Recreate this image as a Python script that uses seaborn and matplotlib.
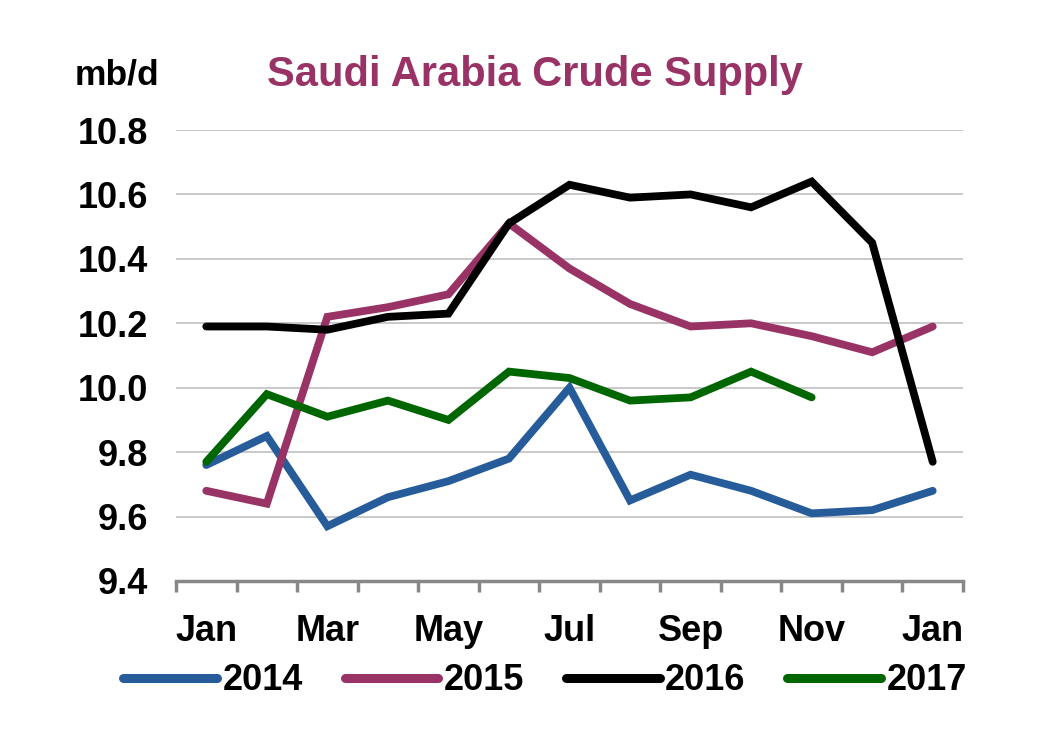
import matplotlib
matplotlib.use("Agg")
import matplotlib.pyplot as plt
import seaborn as sns
import pandas as pd
import numpy as np
from matplotlib.ticker import FixedLocator

months = ["Jan", "Feb", "Mar", "Apr", "May", "Jun", "Jul", "Aug", "Sep", "Oct", "Nov", "Dec", "Jan"]
tick_labels = ["Jan", "Mar", "May", "Jul", "Sep", "Nov", "Jan"]

s2014 = [9.76, 9.85, 9.57, 9.66, 9.71, 9.78, 10.00, 9.65, 9.73, 9.68, 9.61, 9.62, 9.68]
s2015 = [9.68, 9.64, 10.22, 10.25, 10.29, 10.51, 10.37, 10.26, 10.19, 10.20, 10.16, 10.11, 10.19]
s2016 = [10.19, 10.19, 10.18, 10.22, 10.23, 10.51, 10.63, 10.59, 10.60, 10.56, 10.64, 10.45, 9.77]
s2017 = [9.77, 9.98, 9.91, 9.96, 9.90, 10.05, 10.03, 9.96, 9.97, 10.05, 9.97]

series = {"2014": s2014, "2015": s2015, "2016": s2016, "2017": s2017}
colors = {"2014": "#265C9A", "2015": "#993366", "2016": "#000000", "2017": "#006600"}

rows = []
for name, vals in series.items():
    for i, v in enumerate(vals):
        rows.append({"idx": i, "value": v, "year": name})
df = pd.DataFrame(rows)

sns.set_theme(style="white")
plt.rcParams["font.family"] = ["Liberation Sans", "DejaVu Sans"]
plt.rcParams["font.weight"] = "bold"
plt.rcParams["text.color"] = "black"
plt.rcParams["xtick.color"] = "black"
plt.rcParams["ytick.color"] = "black"

fig = plt.figure(figsize=(10.64, 7.48), dpi=100)
ax = fig.add_axes([176 / 1064, 1 - 581 / 748, (963 - 176) / 1064, (581 - 130) / 748])

sns.lineplot(data=df, x="idx", y="value", hue="year", palette=colors, ax=ax,
             linewidth=5.6, legend=False, sort=False,
             solid_capstyle="round", solid_joinstyle="miter")

ax.set_xlim(-0.5, len(months) - 0.5)
ax.set_ylim(9.4, 10.8)
yt = np.arange(9.4, 10.81, 0.2)
ax.set_yticks(yt)
ax.set_yticklabels([f"{v:.1f}" for v in yt])
ax.set_xticks(list(range(0, len(months), 2)))
ax.set_xticklabels(tick_labels)
ax.xaxis.set_minor_locator(FixedLocator(np.arange(-0.5, len(months), 1.0)))
ax.set_xlabel("")
ax.set_ylabel("")

ax.grid(axis="y", color="#c0c0c0", linewidth=1.2)
ax.grid(axis="x", visible=False)
for sp in ["left", "right", "top"]:
    ax.spines[sp].set_visible(False)
ax.spines["bottom"].set_color("#888888")
ax.spines["bottom"].set_linewidth(2.5)
ax.set_axisbelow(True)

ax.tick_params(axis="y", length=0, pad=20, labelsize=26, labelcolor="black")
ax.tick_params(axis="x", which="major", length=0, pad=24, labelsize=26, labelcolor="black")
ax.tick_params(axis="x", which="minor", bottom=True, length=8, width=2.5, color="#888888", direction="out")
for lab in ax.get_xticklabels() + ax.get_yticklabels():
    lab.set_fontweight("bold")

fig.text(535 / 1064, 1 - 75 / 748, "Saudi Arabia Crude Supply", color="#993366",
         fontsize=30, fontweight="bold", ha="center", va="center")
fig.text(75 / 1064, 1 - 75 / 748, "mb/d", color="black",
         fontsize=25.5, fontweight="bold", ha="left", va="center")

handles = [plt.Line2D([0], [0], color=colors[k], linewidth=6.5, solid_capstyle="round") for k in series]
leg = fig.legend(handles, list(series.keys()), loc="center", bbox_to_anchor=(545 / 1064, 1 - 681 / 748),
                 ncol=4, frameon=False, handlelength=2.6, handletextpad=0.15,
                 columnspacing=1.15, prop={"weight": "bold", "size": 26})
for t in leg.get_texts():
    t.set_color("black")

fig.savefig("out.png", dpi=100)
